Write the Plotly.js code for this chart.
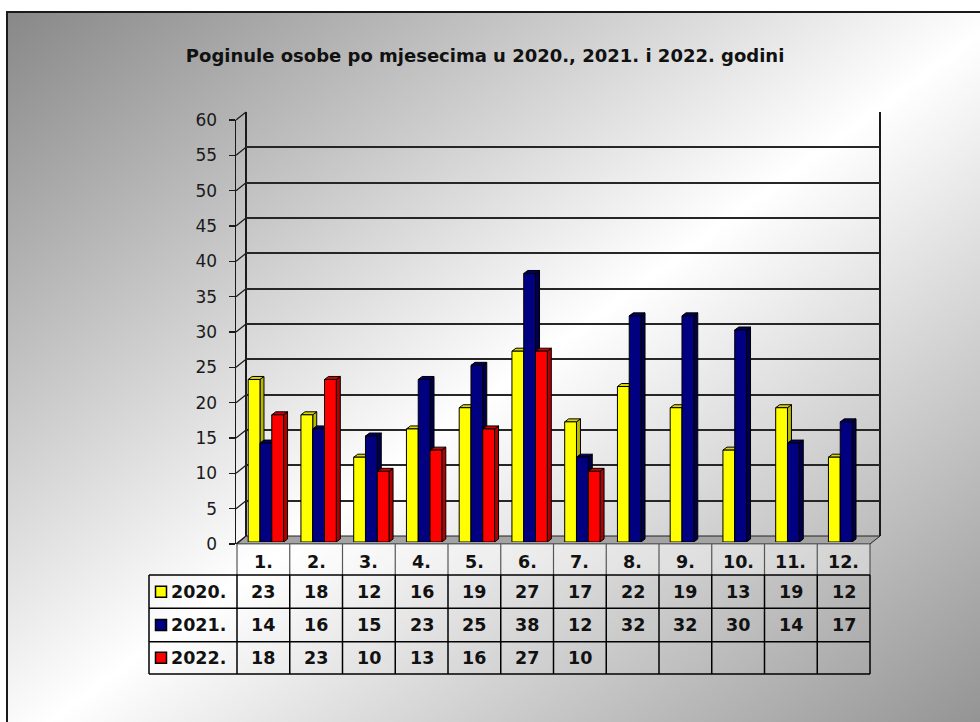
<!DOCTYPE html>
<html><head><meta charset="utf-8">
<script src="https://cdn.plot.ly/plotly-3.0.1.min.js"></script>
<style>
html,body{margin:0;padding:0;width:980px;height:722px;overflow:hidden;background:#fff;}
#frame{position:absolute;left:6px;top:11px;width:1000px;height:740px;border-top:2px solid #1a1a1a;border-left:2px solid #1a1a1a;
background:linear-gradient(to bottom right,#888888 0%,#ffffff 50%,#8c8c8c 100%);}
#chart{position:absolute;left:0;top:0;width:980px;height:722px;}
</style></head><body><div id="frame"></div><div id="chart"></div>
<script>
// ---- data ----
const months = ["1.","2.","3.","4.","5.","6.","7.","8.","9.","10.","11.","12."];
const years = ["2020.","2021.","2022."];
const v2020 = [23,18,12,16,19,27,17,22,19,13,19,12];
const v2021 = [14,16,15,23,25,38,12,32,32,30,14,17];
const v2022 = [18,23,10,13,16,27,10,null,null,null,null,null];
const yTicks = [0,5,10,15,20,25,30,35,40,45,50,55,60];
const titleText = "Poginule osobe po mjesecima u 2020., 2021. i 2022. godini";

// ---- styles / layout geometry ----
const W = 980, H = 722;
const colors = [
  {front:"#ffff00", side:"#b8b800", top:"#d8d800"},
  {front:"#000080", side:"#00004a", top:"#000066"},
  {front:"#ff0000", side:"#b00000", top:"#d40000"}
];
const series = [v2020, v2021, v2022];
const px = x => x / W;
const py = y => 1 - y / H;

// wall geometry (pixels)
const backL = 246, backR = 880, backTop = 112, backBot = 536;
const frontL = 237, frontR = 870, frontTop = 120, frontBot = 544;
const barBot = 542, barTop = 118, barShift = 2.5;
const k = (frontBot - frontTop) / 60;

const nT = 3, bargap = 0.33, bw = (1 - bargap) / nT;
const pxPerCat = (frontR - frontL) / months.length;
const dxD = 4 / pxPerCat, dyD = 3 / ((barBot - barTop) / 60);

const shapes = [];
// floor
shapes.push({type:'path', xref:'paper', yref:'paper', layer:'below',
  path:`M${px(frontL)},${py(frontBot)} L${px(frontR)},${py(frontBot)} L${px(backR)},${py(backBot)} L${px(backL)},${py(backBot)} Z`,
  fillcolor:'#a3a3a3', line:{color:'#222', width:1}});
// back wall side lines
shapes.push({type:'line', xref:'paper', yref:'paper', layer:'below', x0:px(backL), x1:px(backL), y0:py(backTop), y1:py(backBot), line:{color:'#1a1a1a', width:2}});
shapes.push({type:'line', xref:'paper', yref:'paper', layer:'below', x0:px(backR), x1:px(backR), y0:py(backTop), y1:py(backBot), line:{color:'#1a1a1a', width:2}});
// side wall diagonals
yTicks.forEach(v => {
  shapes.push({type:'line', xref:'paper', yref:'paper', layer:'below',
    x0:px(236), y0:py(frontBot - v*k), x1:px(backL), y1:py(backBot - v*k), line:{color:'#1a1a1a', width:1.2}});
});

// 3D faces of bars
series.forEach((vals, t) => {
  vals.forEach((v, i) => {
    if (v == null) return;
    const c = i + (t - (nT - 1) / 2) * bw;
    const L = c - bw / 2, R = c + bw / 2;
    shapes.push({type:'path', xref:'x2', yref:'y3', layer:'below',
      path:`M${R},0 L${R+dxD},${dyD} L${R+dxD},${v+dyD} L${R},${v} Z`,
      fillcolor:colors[t].side, line:{color:'#000', width:1}});
    shapes.push({type:'path', xref:'x2', yref:'y3', layer:'below',
      path:`M${L},${v} L${L+dxD},${v+dyD} L${R+dxD},${v+dyD} L${R},${v} Z`,
      fillcolor:colors[t].top, line:{color:'#000', width:1}});
  });
});

// table
const tL = 149, hTop = frontBot, hBot = 575, rowY = [575, 608.3, 641.7, 674];
shapes.push({type:'rect', xref:'paper', yref:'paper', layer:'below', x0:px(frontL), x1:px(frontR), y0:py(hTop), y1:py(hBot),
  fillcolor:'rgba(255,255,255,0.35)', line:{width:0}});
for (let i = 0; i <= months.length; i++) {
  const x = frontL + i * pxPerCat;
  shapes.push({type:'line', xref:'paper', yref:'paper', x0:px(x), x1:px(x), y0:py(hTop), y1:py(hBot), line:{color:'#555', width:1.2}});
  shapes.push({type:'line', xref:'paper', yref:'paper', x0:px(x), x1:px(x), y0:py(rowY[0]), y1:py(rowY[3]), line:{color:'#000', width:1.5}});
}
rowY.forEach(y => {
  shapes.push({type:'line', xref:'paper', yref:'paper', x0:px(tL), x1:px(frontR), y0:py(y), y1:py(y), line:{color:'#000', width:1.5}});
});
shapes.push({type:'line', xref:'paper', yref:'paper', x0:px(tL), x1:px(tL), y0:py(rowY[0]), y1:py(rowY[3]), line:{color:'#000', width:1.5}});

const annotations = [];
const tfont = {family:'"DejaVu Sans", Verdana, sans-serif', size:17.5, color:'#111', weight:700};
months.forEach((m, i) => {
  annotations.push({xref:'paper', yref:'paper', x:px(frontL + (i + 0.5) * pxPerCat), y:py(562), text:m,
    showarrow:false, xanchor:'center', yanchor:'middle', font:tfont});
});
series.forEach((vals, t) => {
  const yc = (rowY[t] + rowY[t + 1]) / 2;
  vals.forEach((v, i) => {
    if (v == null) return;
    annotations.push({xref:'paper', yref:'paper', x:px(frontL + (i + 0.5) * pxPerCat), y:py(yc), text:String(v),
      showarrow:false, xanchor:'center', yanchor:'middle', font:tfont});
  });
  annotations.push({xref:'paper', yref:'paper', x:px(169), y:py(yc), text:years[t],
    showarrow:false, xanchor:'left', yanchor:'middle', font:tfont});
  shapes.push({type:'rect', xref:'paper', yref:'paper', x0:px(155.5), x1:px(166.5), y0:py(yc - 5.5), y1:py(yc + 5.5),
    fillcolor:colors[t].front, line:{color:'#000', width:1.5}});
});

const traces = [
  {type:'scatter', x:[null], y:[null], xaxis:'x', yaxis:'y', hoverinfo:'skip', showlegend:false},
  {type:'scatter', x:[null], y:[null], xaxis:'x3', yaxis:'y2', hoverinfo:'skip', showlegend:false}
];
series.forEach((vals, t) => {
  traces.push({type:'bar', name:years[t], x:months.map((m, i) => i), y:vals, xaxis:'x2', yaxis:'y3',
    marker:{color:colors[t].front, line:{color:'#000', width:1}}, hoverinfo:'skip', showlegend:false});
});

const layout = {
  width:W, height:H, margin:{l:0, r:0, t:0, b:0}, autosize:false,
  paper_bgcolor:'rgba(0,0,0,0)', plot_bgcolor:'rgba(0,0,0,0)',
  showlegend:false, barmode:'group', bargap:bargap, bargroupgap:0,
  title:{text:titleText, x:0.495, xanchor:'center', y:py(56), yanchor:'middle',
    font:{family:'"DejaVu Sans", Verdana, sans-serif', size:18, color:'#111', weight:700}},
  xaxis:{domain:[px(backL), px(backR)], range:[0,1], visible:false, anchor:'y'},
  yaxis:{domain:[py(backBot), py(backTop)], range:[0,60], dtick:5, tick0:0, showgrid:true, gridcolor:'#262626', gridwidth:2,
    showticklabels:false, ticks:'', zeroline:false, showline:false, anchor:'x'},
  xaxis3:{domain:[px(236), px(frontR)], range:[0,1], visible:false, anchor:'y2'},
  yaxis2:{domain:[py(frontBot), py(frontTop)], range:[0,60], dtick:5, tick0:0, anchor:'x3', side:'left',
    showgrid:false, zeroline:false, showline:true, linecolor:'#1a1a1a', linewidth:1.5,
    ticks:'outside', ticklen:6, tickcolor:'#1a1a1a', tickwidth:1.2, ticklabelstandoff:8,
    tickfont:{family:'"DejaVu Sans", Verdana, sans-serif', size:17, color:'#1a1a1a'}},
  xaxis2:{domain:[px(frontL + barShift), px(frontR + barShift)], range:[-0.5, months.length - 0.5], visible:false, anchor:'y3'},
  yaxis3:{domain:[py(barBot), py(barTop)], range:[0,60], visible:false, anchor:'x2'},
  shapes:shapes, annotations:annotations
};
Plotly.newPlot('chart', traces, layout, {staticPlot:true, displayModeBar:false});
</script></body></html>
